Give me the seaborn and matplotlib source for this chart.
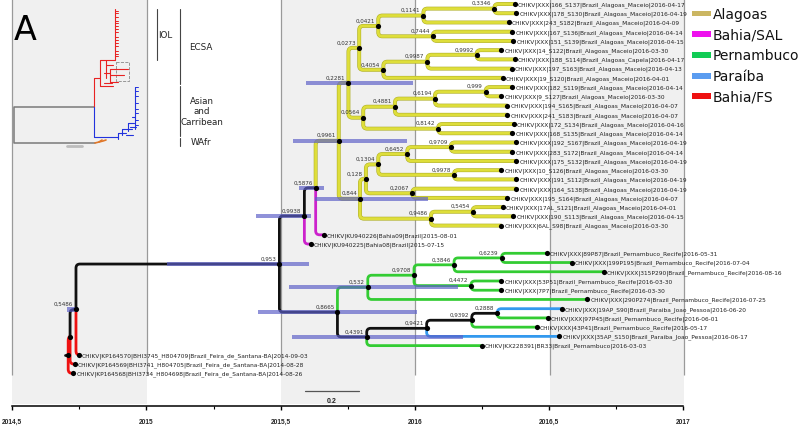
import numpy as np
import pandas as pd
import matplotlib
matplotlib.use("Agg")
import matplotlib.pyplot as plt
import seaborn as sns
from matplotlib.path import Path
from matplotlib.patches import PathPatch, Rectangle
import matplotlib.patheffects as pe

sns.set_theme(style="white")
plt.rcParams['font.family'] = ['DejaVu Sans']

# ------------------------------------------------------------------ data
TIP_LABELS = [
    "CHIKV|XXX|166_S137|Brazil_Alagoas_Maceio|2016-04-17",
    "CHIKV|XXX|178_S130|Brazil_Alagoas_Maceio|2016-04-19",
    "CHIKV|XXX|243_S182|Brazil_Alagoas_Maceio|2016-04-09",
    "CHIKV|XXX|167_S136|Brazil_Alagoas_Maceio|2016-04-14",
    "CHIKV|XXX|151_S139|Brazil_Alagoas_Maceio|2016-04-15",
    "CHIKV|XXX|14_S122|Brazil_Alagoas_Maceio|2016-03-30",
    "CHIKV|XXX|188_S114|Brazil_Alagoas_Capela|2016-04-17",
    "CHIKV|XXX|197_S163|Brazil_Alagoas_Maceio|2016-04-13",
    "CHIKV|XXX|19_S120|Brazil_Alagoas_Maceio|2016-04-01",
    "CHIKV|XXX|182_S119|Brazil_Alagoas_Maceio|2016-04-14",
    "CHIKV|XXX|9_S127|Brazil_Alagoas_Maceio|2016-03-30",
    "CHIKV|XXX|194_S165|Brazil_Alagoas_Maceio|2016-04-07",
    "CHIKV|XXX|241_S183|Brazil_Alagoas_Maceio|2016-04-07",
    "CHIKV|XXX|172_S134|Brazil_Alagoas_Maceio|2016-04-16",
    "CHIKV|XXX|168_S135|Brazil_Alagoas_Maceio|2016-04-14",
    "CHIKV|XXX|192_S167|Brazil_Alagoas_Maceio|2016-04-19",
    "CHIKV|XXX|283_S172|Brazil_Alagoas_Maceio|2016-04-14",
    "CHIKV|XXX|175_S132|Brazil_Alagoas_Maceio|2016-04-19",
    "CHIKV|XXX|10_S126|Brazil_Alagoas_Maceio|2016-03-30",
    "CHIKV|XXX|191_S112|Brazil_Alagoas_Maceio|2016-04-19",
    "CHIKV|XXX|164_S138|Brazil_Alagoas_Maceio|2016-04-19",
    "CHIKV|XXX|195_S164|Brazil_Alagoas_Maceio|2016-04-07",
    "CHIKV|XXX|17AL_S121|Brazil_Alagoas_Maceio|2016-04-01",
    "CHIKV|XXX|190_S113|Brazil_Alagoas_Maceio|2016-04-15",
    "CHIKV|XXX|6AL_S98|Brazil_Alagoas_Maceio|2016-03-30",
    "CHIKV|KU940226|Bahia09|Brazil|2015-08-01",
    "CHIKV|KU940225|Bahia08|Brazil|2015-07-15",
    "CHIKV|XXX|89P87|Brazil_Pernambuco_Recife|2016-05-31",
    "CHIKV|XXX|199P195|Brazil_Pernambuco_Recife|2016-07-04",
    "CHIKV|XXX|315P290|Brazil_Pernambuco_Recife|2016-08-16",
    "CHIKV|XXX|53P51|Brazil_Pernambuco_Recife|2016-03-30",
    "CHIKV|XXX|7P7|Brazil_Pernambuco_Recife|2016-03-30",
    "CHIKV|XXX|290P274|Brazil_Pernambuco_Recife|2016-07-25",
    "CHIKV|XXX|19AP_S90|Brazil_Paraiba_Joao_Pessoa|2016-06-20",
    "CHIKV|XXX|97P45|Brazil_Pernambuco_Recife|2016-06-01",
    "CHIKV|XXX|43P41|Brazil_Pernambuco_Recife|2016-05-17",
    "CHIKV|XXX|35AP_S150|Brazil_Paraiba_Joao_Pessoa|2016-06-17",
    "CHIKV|KX228391|BR33|Brazil_Pernambuco|2016-03-03",
    "CHIKV|KP164570|BHI3745_H804709|Brazil_Feira_de_Santana-BA|2014-09-03",
    "CHIKV|KP164569|BHI3741_H804705|Brazil_Feira_de_Santana-BA|2014-08-28",
    "CHIKV|KP164568|BHI3734_H804698|Brazil_Feira_de_Santana-BA|2014-08-26",
]
TIP_STATE = (["Alagoas"] * 25 + ["Bahia/SAL"] * 2 + ["Pernambuco"] * 6 +
             ["Paraíba", "Pernambuco", "Pernambuco", "Paraíba", "Pernambuco"] +
             ["Bahia/FS"] * 3)
TIP_SHIFT = 0.076   # offset of the tips relative to the time axis, as drawn

# tree topology: (node label, [children]); ints are tip indices
TREE = ("root", [
    ("A", [
        ("0,5486", [
            ("0,953", [
                ("0,9938", [
                    ("0,5876", [
                        ("0,9961", [
                            ("0,2281", [
                                ("0,0273", [
                                    ("0,0421", [
                                        ("0,1141", [("0,3346", [0, 1]), 2]),
                                        ("0,7444", [3, 4])]),
                                    ("0,4054", [("0,9987", [("0,9992", [5, 6]), 7]), 8])]),
                                ("0,0564", [
                                    ("0,4881", [("0,6194", [("0,999", [9, 10]), 11]), 12]),
                                    ("0,8142", [13, 14])])]),
                            ("0,844", [
                                ("0,128", [
                                    ("0,1304", [("0,6452", [("0,9709", [15, 16]), 17]),
                                                ("0,9978", [18, 19])]),
                                    ("0,2067", [20, 21])]),
                                ("0,9486", [("0,5454", [22, 23]), 24])])]),
                        25]),
                    26]),
                ("0,8665", [
                    ("0,532", [("0,9708", [("0,3846", [("0,6239", [27, 28]), 29]),
                                           ("0,4472", [30, 31])]), 32]),
                    ("0,4391", [("0,9421", [("0,9392", [("0,2888", [33, 34]), 35]), 36]), 37])])]),
            38]),
        39]),
    40])

NODE_TIME = {
    "root": 2014.708, "A": 2014.715, "0,5486": 2014.737, "0,953": 2015.494,
    "0,9938": 2015.587, "0,5876": 2015.629, "0,9961": 2015.715, "0,2281": 2015.751,
    "0,0273": 2015.791, "0,0421": 2015.862, "0,1141": 2016.030, "0,3346": 2016.294,
    "0,7444": 2016.065, "0,4054": 2015.881, "0,9987": 2016.045, "0,9992": 2016.228,
    "0,0564": 2015.806, "0,4881": 2015.924, "0,6194": 2016.073, "0,999": 2016.262,
    "0,8142": 2016.085, "0,844": 2015.794, "0,128": 2015.816, "0,1304": 2015.862,
    "0,6452": 2015.970, "0,9709": 2016.132, "0,9978": 2016.144, "0,2067": 2015.989,
    "0,9486": 2016.058, "0,5454": 2016.213, "0,8665": 2015.710, "0,532": 2015.823,
    "0,9708": 2015.995, "0,3846": 2016.144, "0,6239": 2016.321, "0,4472": 2016.207,
    "0,4391": 2015.819, "0,9421": 2016.042, "0,9392": 2016.210, "0,2888": 2016.305,
}
ALAGOAS_NODES = ["0,9961", "0,2281", "0,0273", "0,0421", "0,1141", "0,3346", "0,7444",
                 "0,4054", "0,9987", "0,9992", "0,0564", "0,4881", "0,6194", "0,999",
                 "0,8142", "0,844", "0,128", "0,1304", "0,6452", "0,9709", "0,9978",
                 "0,2067", "0,9486", "0,5454"]
PERNAMBUCO_NODES = ["0,532", "0,9708", "0,3846", "0,6239", "0,4472"]
BAHIA_FS_NODES = ["A"]
HIDDEN_LABELS = ["root", "A"]

HPD = {
    "0,2281": (2015.593, 2015.990), "0,9961": (2015.546, 2015.968),
    "0,844": (2015.627, 2016.046), "0,5876": (2015.568, 2015.660),
    "0,9938": (2015.407, 2015.612), "0,953": (2015.075, 2015.605),
    "0,8665": (2015.416, 2016.005), "0,532": (2015.531, 2016.160),
    "0,4391": (2015.542, 2016.178), "0,5486": (2014.702, 2014.746),
}

LEGEND_NAMES = ["Alagoas", "Bahia/SAL", "Pernambuco", "Paraíba", "Bahia/FS"]
LEGEND_COLORS = ["#cbb662", "#ee11ee", "#11cc55", "#5a9cf0", "#ee1111"]
BRANCH_COLORS = {"Alagoas": "#dede3a", "Bahia/SAL": "#cc22cc", "Pernambuco": "#33cc33",
                 "Paraíba": "#3399ee", "Bahia/FS": "#ee1111", "none": "#111111"}

AXIS_TICKS = [2014.5, 2015, 2015.5, 2016, 2016.5, 2017]
SCALE_BAR = 0.2

# ------------------------------------------------------------------ geometry helpers
W, H = 800, 427
PX = 268.7          # pixels per year
X0PX = 12.3         # pixel column of 2014.5
Y_AXIS_PX = 406.7


def X(px):
    return 2014.5 + (px - X0PX) / PX


def dec(d):
    ts = pd.Timestamp(d)
    n = 366 if ts.is_leap_year else 365
    return ts.year + (ts.dayofyear - 0.5) / n


tip_time = [dec(l.split("|")[-1]) + TIP_SHIFT for l in TIP_LABELS]
ROW0, ROWSTEP = 5.0, 9.233

nodes = []   # dicts: x, y, label, tip
edges = []   # (px, py, cx, cy, state)


def state_of(label):
    if label in ALAGOAS_NODES:
        return "Alagoas"
    if label in PERNAMBUCO_NODES:
        return "Pernambuco"
    if label in BAHIA_FS_NODES:
        return "Bahia/FS"
    return "none"


def layout(n):
    if isinstance(n, int):
        x, y = tip_time[n], ROW0 + ROWSTEP * n
        nodes.append(dict(x=x, y=y, label=TIP_LABELS[n], tip=True))
        return x, y, TIP_STATE[n]
    label, children = n
    res = [layout(c) for c in children]
    y = (res[0][1] + res[-1][1]) / 2
    x = NODE_TIME[label]
    for cx, cy, st in res:
        edges.append((x, y, cx, cy, st))
    nodes.append(dict(x=x, y=y, label=label, tip=False))
    return x, y, state_of(label)


root_x, root_y, _ = layout(TREE)

# ------------------------------------------------------------------ figure
fig = plt.figure(figsize=(W / 100, H / 100), dpi=100)
ax = fig.add_axes([0, 0, 1, 1])
ax.set_xlim(X(0), X(W))
ax.set_ylim(H, 0)
ax.axis("off")

# background bands and grid
for a, b in [(2014.5, 2015), (2015.5, 2016), (2016.5, 2017)]:
    ax.fill_between([a, b], 0, 405, color="#f0f0f0", lw=0, zorder=0)
ax.vlines(AXIS_TICKS, 0, 376, color="#9a9a9a", lw=0.9, zorder=1)

# branches (rounded elbows)
R = 4.0
for px_, py_, cx_, cy_, st in edges:
    col = BRANCH_COLORS[st]
    dy = cy_ - py_
    if abs(dy) < 0.01:
        verts = [(px_, py_), (cx_, cy_)]
        codes = [Path.MOVETO, Path.LINETO]
    else:
        r = min(R, abs(dy))
        rx = min(r / PX, max(cx_ - px_, 0))
        s = np.sign(dy)
        verts = [(px_, py_), (px_, cy_ - s * r), (px_, cy_), (px_ + rx, cy_), (cx_, cy_)]
        codes = [Path.MOVETO, Path.LINETO, Path.CURVE3, Path.CURVE3, Path.LINETO]
    patch = PathPatch(Path(verts, codes), facecolor="none", edgecolor=col,
                      lw=2.0, capstyle="butt", zorder=3)
    if st == "Alagoas":
        patch.set_path_effects([pe.Stroke(linewidth=2.8, foreground="#b0b02a"), pe.Normal()])
    ax.add_patch(patch)
# root stub
ax.plot([root_x - 0.012, root_x], [root_y, root_y], color="#111111", lw=2.0, zorder=3)

# HPD bars
for lab, (lo, hi) in HPD.items():
    nd = next(n for n in nodes if n["label"] == lab)
    ax.barh(nd["y"], hi - lo, left=lo, height=4.2, color="#5b5fc8", alpha=0.68,
            lw=0, zorder=4)

# node dots
df = pd.DataFrame(nodes)
sns.scatterplot(data=df, x="x", y="y", color="black", s=14, linewidth=0, zorder=5,
                ax=ax, legend=False)
ax.set_xlim(X(0), X(W))
ax.set_ylim(H, 0)
ax.axis("off")

# labels
for n in nodes:
    if n["tip"]:
        ax.text(n["x"] + 3 / PX, n["y"], n["label"], fontsize=4.2, color="#222222",
                ha="left", va="center", zorder=6)
    elif n["label"] not in HIDDEN_LABELS:
        ax.text(n["x"] - 3 / PX, n["y"] - 6, n["label"], fontsize=4.1, color="#333333",
                ha="right", va="center", zorder=6)

# legend
for i, (name, col) in enumerate(zip(LEGEND_NAMES, LEGEND_COLORS)):
    yc = 14.5 + 20.7 * i
    ax.add_patch(Rectangle((X(692.3), yc - 2.9), 18.4 / PX, 5.8, color=col, lw=0, zorder=6))
    ax.text(X(712.7), yc, name, fontsize=10, color="#111111", ha="left", va="center",
            zorder=6)

# scale bar
ax.plot([X(305), X(305) + SCALE_BAR], [392.3, 392.3], color="#555555", lw=0.9, zorder=6)
ax.text(X(305) + SCALE_BAR / 2, 401.5, f"{SCALE_BAR:g}", fontsize=5, fontweight="bold",
        family="Liberation Sans", ha="center", va="center", color="#222222")

# clade annotations of the inset
ax.plot([X(156.7)] * 2, [10, 61], color="#444444", lw=0.8)
ax.plot([X(180)] * 2, [10, 85], color="#444444", lw=0.8)
ax.plot([X(180)] * 2, [87, 137], color="#444444", lw=0.8)
ax.plot([X(180)] * 2, [139, 147], color="#444444", lw=0.8)
ax.text(X(158.5), 36, "IOL", fontsize=6.3, ha="left", va="center", color="#222222")
ax.text(X(201), 47.5, "ECSA", fontsize=6.3, ha="center", va="center", color="#222222")
ax.text(X(201.5), 112, "Asian\nand\nCarribean", fontsize=6.3, ha="center", va="center",
        color="#222222", linespacing=1.15)
ax.text(X(201.5), 143, "WAfr", fontsize=6.3, ha="center", va="center", color="#222222")
ax.text(X(25.5), 30, "A", fontsize=24, ha="center", va="center", color="black")

# ------------------------------------------------------------------ inset thumbnail tree
INSET_GREY = [[(94, 108), (14, 108), (14, 144), (95, 144)]]
INSET_ORANGE = [[(95, 144), (99, 143), (103, 142), (106, 141)], [(99, 143), (102, 141)]]
INSET_RED = [[(94, 108), (94, 79), (100, 79)], [(100, 87), (100, 61), (115, 61)],
             [(115, 10), (115, 61)], [(100, 87), (113, 87)],
             [(104, 74), (110, 74)], [(110, 70), (110, 83)], [(110, 70), (128, 70)],
             [(110, 76), (124, 76)], [(110, 83), (118, 83)], [(104, 84), (112, 84)],
             [(106, 61), (106, 79)], [(106, 66), (113, 66)]]
INSET_RED_TWIGS = [12, 14, 18, 22, 24, 27, 30, 33, 38, 41, 44, 47, 52, 55, 57]
INSET_BLUE = [[(94, 108), (94, 138), (118, 138)], [(118, 134), (118, 140)],
              [(118, 134), (126, 134)], [(122, 130), (122, 136)], [(122, 130), (132, 130)],
              [(128, 124), (128, 132)], [(128, 124), (134, 124)], [(126, 136), (133, 136)],
              [(135, 88), (135, 130)], [(132, 118), (135, 118)], [(130, 128), (136, 128)]]
INSET_BLUE_TWIGS = [88, 92, 97, 104, 110, 114, 121, 126]
INSET_TICKS = [32, 51, 70, 89, 108, 127, 146]

axi = fig.add_axes([X0PX / W, (H - 152) / H, (147 - X0PX) / W, 152 / H])
axi.set_xlim(X0PX, 147)
axi.set_ylim(152, 0)
axi.axis("off")
axi.patch.set_alpha(0)
for seg in INSET_GREY:
    axi.plot(*zip(*seg), color="#7a7a7a", lw=1.1)
axi.plot([67, 82], [146.5, 146.5], color="#bdbdbd", lw=2)
for seg in INSET_ORANGE:
    axi.plot(*zip(*seg), color="#e0782a", lw=1.2)
for seg in INSET_RED:
    axi.plot(*zip(*seg), color="#e82222", lw=0.8)
for yy in INSET_RED_TWIGS:
    axi.plot([115, 118], [yy, yy], color="#e82222", lw=0.7)
for seg in INSET_BLUE:
    axi.plot(*zip(*seg), color="#2233dd", lw=0.8)
for yy in INSET_BLUE_TWIGS:
    axi.plot([135, 137.5], [yy, yy], color="#2233dd", lw=0.7)
axi.add_patch(Rectangle((116, 63), 13, 19, fill=False, ec="#888888", ls="--", lw=0.6))
axi.plot([X0PX, 147], [151.5, 151.5], color="#8a8a8a", lw=0.6)
for t in INSET_TICKS:
    axi.plot([t, t], [151.5, 153.5], color="#8a8a8a", lw=0.5)

# ------------------------------------------------------------------ time axis
axt = fig.add_axes([X0PX / W, (H - Y_AXIS_PX) / H, (683 - X0PX) / W, 0.0005])
axt.set_xlim(2014.5, 2017)
axt.set_ylim(0, 1)
axt.patch.set_alpha(0)
for s in ["top", "left", "right"]:
    axt.spines[s].set_visible(False)
axt.spines["bottom"].set_color("black")
axt.spines["bottom"].set_linewidth(1.1)
axt.set_yticks([])
axt.set_xticks(AXIS_TICKS)
axt.set_xticks([2014.75, 2015.25, 2015.75, 2016.25, 2016.75], minor=True)
axt.set_xticklabels([f"{t:g}".replace(".", ",") for t in AXIS_TICKS],
                    fontsize=4.8, fontweight="bold", family="Liberation Sans")
axt.tick_params(axis="x", which="major", direction="out", length=3, width=1.0,
                color="black", pad=6, bottom=True)
axt.tick_params(axis="x", which="minor", direction="out", length=1.8, width=0.8,
                color="black", bottom=True)
axt.grid(False)

fig.savefig("out.png", dpi=100)
